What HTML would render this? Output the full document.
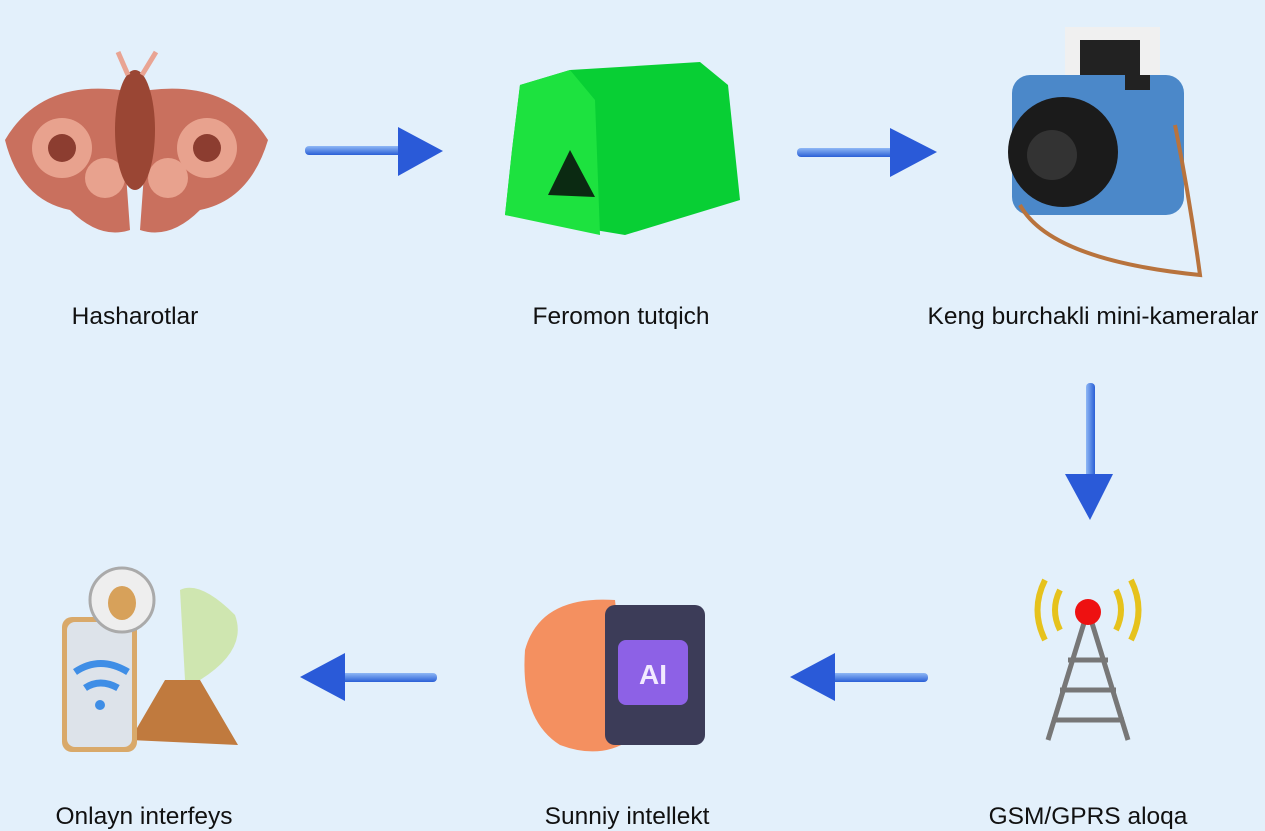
<!DOCTYPE html>
<html><head><meta charset="utf-8"><style>
html,body{margin:0;padding:0}
body{width:1265px;height:831px;background:#e3f0fb;position:relative;overflow:hidden;font-family:"Liberation Sans",sans-serif}
.lbl{position:absolute;font-size:24.5px;color:#111;white-space:nowrap;transform:translateX(-50%)}
svg{position:absolute;left:0;top:0}
</style></head><body>
<svg width="1265" height="831">
<defs>
<linearGradient id="sh" x1="0" y1="0" x2="0" y2="1"><stop offset="0" stop-color="#8fb8f5"/><stop offset="1" stop-color="#2a5fd6"/></linearGradient>
<linearGradient id="shv" x1="0" y1="0" x2="1" y2="0"><stop offset="0" stop-color="#8fb8f5"/><stop offset="1" stop-color="#2a5fd6"/></linearGradient>
</defs>
<g><rect x="305" y="146" width="100" height="9" rx="4" fill="url(#sh)"/><polygon points="398,127 443,151 398,176" fill="#2a5ad8"/></g>
<g><rect x="797" y="148" width="100" height="9" rx="4" fill="url(#sh)"/><polygon points="890,128 937,152 890,177" fill="#2a5ad8"/></g>
<g><rect x="1086" y="383" width="9" height="97" rx="4" fill="url(#shv)"/><polygon points="1065,474 1113,474 1090,520" fill="#2a5ad8"/></g>
<g><rect x="825" y="673" width="103" height="9" rx="4" fill="url(#sh)"/><polygon points="835,653 790,677 835,701" fill="#2a5ad8"/></g>
<g><rect x="335" y="673" width="102" height="9" rx="4" fill="url(#sh)"/><polygon points="345,653 300,677 345,701" fill="#2a5ad8"/></g>
<g>
<path d="M120 90 Q40 80 5 140 Q20 200 70 210 Q100 240 130 230 Z" fill="#c9705e"/>
<path d="M150 90 Q230 80 268 140 Q250 200 200 210 Q170 240 140 230 Z" fill="#c9705e"/>
<circle cx="62" cy="148" r="30" fill="#e8a28e"/><circle cx="62" cy="148" r="14" fill="#8c3d30"/>
<circle cx="207" cy="148" r="30" fill="#e8a28e"/><circle cx="207" cy="148" r="14" fill="#8c3d30"/>
<circle cx="105" cy="178" r="20" fill="#e8a28e"/><circle cx="168" cy="178" r="20" fill="#e8a28e"/>
<ellipse cx="135" cy="130" rx="20" ry="60" fill="#9a4634"/>
<path d="M128 75 L118 52 M142 75 L156 52" stroke="#e9a493" stroke-width="5"/>
</g>
<g>
<polygon points="520,85 570,70 700,62 728,85 740,200 625,235 505,215 512,150" fill="#08cf34"/>
<polygon points="520,85 570,70 595,100 600,235 505,215 512,150" fill="#1de23f"/>
<polygon points="570,150 548,195 595,197" fill="#0b2a12"/>
</g>
<g>
<rect x="1065" y="27" width="95" height="70" fill="#f0f0f0"/><rect x="1080" y="40" width="60" height="40" fill="#222"/>
<rect x="1012" y="75" width="172" height="140" rx="18" fill="#4b88c9"/>
<circle cx="1063" cy="152" r="55" fill="#1b1b1b"/><circle cx="1052" cy="155" r="25" fill="#333"/>
<rect x="1125" y="75" width="25" height="15" fill="#222"/>
<path d="M1020 205 Q1050 260 1200 275 Q1190 200 1175 125" stroke="#b8733d" stroke-width="4" fill="none"/>
</g>
<g>
<path d="M1088 610 L1048 740 M1088 610 L1128 740 M1068 660 L1108 660 M1060 690 L1116 690 M1052 720 L1124 720" stroke="#777" stroke-width="5" fill="none"/>
<circle cx="1088" cy="612" r="13" fill="#e11"/>
<path d="M1060 590 Q1050 610 1060 630 M1045 580 Q1030 610 1045 640 M1116 590 Q1126 610 1116 630 M1131 580 Q1146 610 1131 640" stroke="#e6c21c" stroke-width="6" fill="none"/>
</g>
<g>
<path d="M615 600 Q540 595 525 650 Q520 720 560 745 Q600 760 630 740 Z" fill="#f49060"/>
<rect x="605" y="605" width="100" height="140" rx="10" fill="#3c3c58"/>
<rect x="618" y="640" width="70" height="65" rx="8" fill="#8d61e6"/>
<text x="653" y="684" font-size="28" font-weight="bold" fill="#f2eaff" text-anchor="middle" font-family="Liberation Sans">AI</text>
</g>
<g>
<path d="M130 740 L165 680 L200 680 L238 745 Z" fill="#c07a3e"/>
<path d="M185 680 L180 590 Q200 580 235 615 Q248 650 200 680" fill="#cfe6b0"/>
<rect x="62" y="617" width="75" height="135" rx="10" fill="#d9a96a"/><rect x="67" y="622" width="65" height="125" rx="8" fill="#dde3ea"/>
<path d="M75 672 Q100 655 128 672 M85 688 Q100 678 118 688" stroke="#3f8ee6" stroke-width="7" fill="none"/>
<circle cx="100" cy="705" r="5" fill="#3f8ee6"/>
<circle cx="122" cy="600" r="32" fill="#eeeeee" stroke="#aaa" stroke-width="3"/><ellipse cx="122" cy="603" rx="14" ry="17" fill="#d7a15a"/>
</g>
</svg>
<div class="lbl" style="left:135px;top:303px">Hasharotlar</div>
<div class="lbl" style="left:621px;top:303px">Feromon tutqich</div>
<div class="lbl" style="left:1093px;top:303px">Keng burchakli mini-kameralar</div>
<div class="lbl" style="left:144px;top:803px">Onlayn interfeys</div>
<div class="lbl" style="left:627px;top:803px">Sunniy intellekt</div>
<div class="lbl" style="left:1088px;top:803px">GSM/GPRS aloqa</div>
</body></html>
